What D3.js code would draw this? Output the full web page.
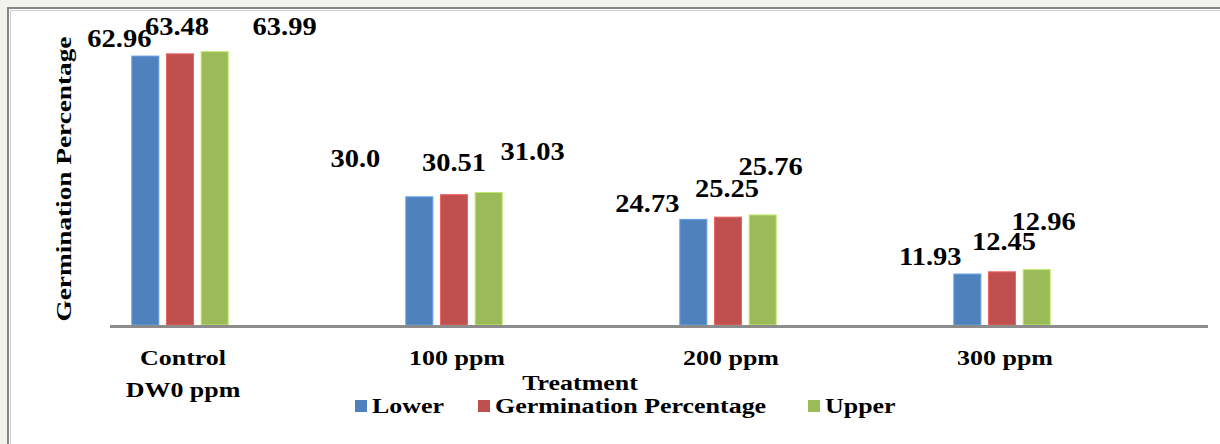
<!DOCTYPE html>
<html>
<head>
<meta charset="utf-8">
<script src="https://cdn.jsdelivr.net/npm/d3@7"></script>
<style>
  html, body { margin: 0; padding: 0; background: #f3f3ee; }
  svg { display: block; }
</style>
</head>
<body>
<div id="chart"></div>
<script>
const treatments = ["Control\nDW0 ppm", "100 ppm", "200 ppm", "300 ppm"];
const seriesNames = ["Lower", "Germination Percentage", "Upper"];
const lower = [62.96, 30.0, 24.73, 11.93];
const germination = [63.48, 30.51, 25.25, 12.45];
const upper = [63.99, 31.03, 25.76, 12.96];
const colors = ["#4f81bd", "#c0504d", "#9bbb59"];

// data labels were dragged around by hand in the original, so nudge them
const labelNudge = [
  [[-26, -9], [-64, -30], [-46, -7], [-37, -9]],
  [[-3, -19], [0, -24], [-1, -20], [2, -22]],
  [[70, -17], [44, -32], [8, -40], [7, -40]]
];

const series = [lower, germination, upper];
const w = 1220;
const h = 444;
const stretch = 1.18;
const serif = "'Liberation Serif', 'Times New Roman', serif";

const svg = d3.select("#chart")
  .append("svg")
  .attr("width", w)
  .attr("height", h)
  .style("font-family", serif)
  .style("font-weight", "bold");

// frame
svg.append("rect")
  .attr("x", 8).attr("y", 8)
  .attr("width", w + 20).attr("height", h + 20)
  .attr("fill", "#fff")
  .attr("stroke", "#858585")
  .attr("stroke-width", 2);
svg.append("rect")
  .attr("x", 10.5).attr("y", 10.5)
  .attr("width", w + 20).attr("height", h + 20)
  .attr("fill", "none")
  .attr("stroke", "#d0d0d0")
  .attr("stroke-width", 1);

const xScale = d3.scaleBand()
  .domain(treatments)
  .range([43, 1139]);

const inner = d3.scaleBand()
  .domain(d3.range(3))
  .range([-52, 52])
  .paddingInner(0.22)
  .paddingOuter(0.11);

const yScale = d3.scaleLinear()
  .domain([0, 70])
  .range([325, 26]);

const cx = (i) => xScale(treatments[i]) + xScale.bandwidth() / 2;

// bars
series.forEach((vals, s) => {
  svg.append("g")
    .selectAll("rect")
    .data(vals)
    .enter()
    .append("rect")
    .attr("x", (d, i) => cx(i) + inner(s))
    .attr("y", (d) => yScale(d))
    .attr("width", inner.bandwidth())
    .attr("height", (d) => yScale(0) - yScale(d))
    .attr("fill", colors[s])
    .attr("stroke", d3.color(colors[s]).brighter(0.6))
    .attr("stroke-width", 1);
});

// x axis line
svg.append("line")
  .attr("x1", 110).attr("x2", 1208)
  .attr("y1", yScale(0) + 1.5).attr("y2", yScale(0) + 1.5)
  .attr("stroke", "#8c8c8c")
  .attr("stroke-width", 3);

const fmt = (v) => (v % 1 === 0 ? v.toFixed(1) : String(v));

// data labels
series.forEach((vals, s) => {
  svg.append("g")
    .selectAll("text")
    .data(vals)
    .enter()
    .append("text")
    .attr("transform", (d, i) => {
      const x = cx(i) + inner(s) + inner.bandwidth() / 2 + labelNudge[s][i][0];
      const y = yScale(d) + labelNudge[s][i][1];
      return "translate(" + x + "," + y + ") scale(1.14,1)";
    })
    .attr("text-anchor", "middle")
    .style("font-size", "25px")
    .text(fmt);
});

// category labels
const cats = svg.append("g")
  .selectAll("text")
  .data(treatments)
  .enter()
  .append("text")
  .attr("transform", (d, i) => "translate(" + (cx(i) + 3) + ",365) scale(" + stretch + ",1)")
  .attr("text-anchor", "middle")
  .style("font-size", "22px");
cats.selectAll("tspan")
  .data((d) => d.split("\n"))
  .enter()
  .append("tspan")
  .attr("x", 0)
  .attr("dy", (d, i) => (i === 0 ? 0 : 32))
  .text((d) => d);

// axis titles
svg.append("text")
  .attr("transform", "translate(580,390) scale(" + stretch + ",1)")
  .attr("text-anchor", "middle")
  .style("font-size", "22px")
  .text("Treatment");

svg.append("text")
  .attr("transform", "translate(71,179) rotate(-90) scale(1.24,1)")
  .attr("text-anchor", "middle")
  .style("font-size", "22px")
  .text("Germination Percentage");

// legend
const legendX = [355, 478, 808];
const legend = svg.append("g")
  .selectAll("g")
  .data(seriesNames)
  .enter()
  .append("g")
  .attr("transform", (d, i) => "translate(" + legendX[i] + ",400)");
legend.append("rect")
  .attr("width", 12).attr("height", 12)
  .attr("fill", (d, i) => colors[i]);
legend.append("text")
  .attr("transform", "translate(17,13) scale(" + stretch + ",1)")
  .style("font-size", "22px")
  .text((d) => d);
</script>
</body>
</html>
